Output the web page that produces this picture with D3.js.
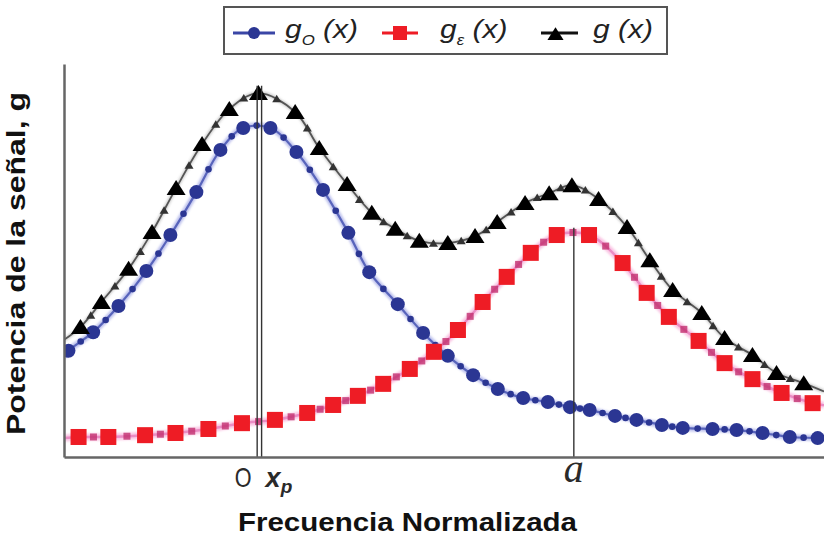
<!DOCTYPE html>
<html>
<head>
<meta charset="utf-8">
<script src="https://cdn.jsdelivr.net/npm/d3@7"></script>
<style>
  body { margin: 0; background: #fff; }
  svg { display: block; }
</style>
</head>
<body>
<svg id="chart" width="824" height="537"></svg>
<script>
// Normalized frequency axis (0 = origin, x_p = peak of g, a = centre of g_e)
const xMin = -3.05, xMax = 8.95;
const yMax = 108;

const tickLabels = [
  { x: 0,    text: "O" },
  { x: 0.07, text: "x", sub: "p" },
  { x: 5,    text: "a" }
];

// g_o(x): component centred at the origin
const goX = [-3.05, -2.98, -2.59, -2.19, -1.75, -1.37, -0.96, -0.58, -0.22, 0.21, 0.62, 1.04, 1.44, 1.77, 2.22, 2.62, 3.01, 3.41, 3.80, 4.20, 4.59, 4.94, 5.25, 5.65, 5.99, 6.39, 6.72, 7.19, 7.57, 7.98, 8.41, 8.85, 8.95];
const goY = [27.5, 29.2, 34.3, 41.5, 51.1, 61.0, 72.8, 84.4, 90.4, 90.4, 83.8, 73.4, 61.6, 50.8, 42.0, 34.1, 27.8, 22.5, 18.7, 16.2, 15.1, 13.7, 12.9, 11.3, 10.2, 8.8, 8.0, 7.7, 7.4, 6.6, 5.5, 5.2, 5.0];

// g_e(x): component centred at a
const geX = [-3.05, -2.82, -2.35, -1.77, -1.29, -0.77, -0.24, 0.28, 0.79, 1.20, 1.59, 1.99, 2.41, 2.79, 3.17, 3.56, 3.94, 4.32, 4.73, 5.24, 5.77, 6.15, 6.50, 6.97, 7.38, 7.82, 8.28, 8.77, 8.95];
const geY = [5.2, 5.5, 5.5, 6.0, 6.6, 7.7, 9.3, 10.2, 12.1, 14.3, 16.8, 20.1, 24.2, 28.9, 34.9, 42.6, 49.5, 56.1, 61.0, 61.0, 53.3, 45.1, 38.5, 31.9, 25.8, 21.4, 17.6, 14.8, 14.2];

// g(x): total signal power
const gX = [-3.05, -2.79, -2.46, -2.03, -1.66, -1.28, -0.87, -0.44, 0.02, 0.60, 0.98, 1.42, 1.81, 2.18, 2.56, 3.01, 3.44, 3.79, 4.23, 4.61, 4.97, 5.39, 5.84, 6.20, 6.56, 7.02, 7.38, 7.82, 8.20, 8.63, 8.95];
const gY = [32.2, 35.7, 42.6, 51.7, 61.8, 73.9, 86.0, 95.6, 100.0, 94.8, 84.9, 75.0, 67.1, 62.7, 59.4, 58.8, 60.7, 64.6, 69.8, 72.5, 74.7, 70.9, 63.2, 54.1, 45.9, 39.6, 32.7, 28.0, 23.1, 20.3, 18.0];

// Vertical guides: origin, x_p and a (top given in signal units)
const guideX   = [0, 0.07, 5];
const guideTop = [102, 102, 63];

const svg = d3.select("#chart");
const x = d3.scaleLinear().domain([xMin, xMax]).range([64, 824]);
const y = d3.scaleLinear().domain([0, yMax]).range([457, 64]);

const defs = svg.append("defs");
defs.append("clipPath").attr("id", "plotClip")
  .append("rect").attr("x", x(xMin)).attr("y", 0)
  .attr("width", x(xMax) - x(xMin)).attr("height", y(0));
defs.append("filter").attr("id", "soft")
  .append("feGaussianBlur").attr("stdDeviation", 0.9);

const triBig = "M0,-8L9.5,7L-9.5,7Z";
const triSmall = "M0,-4L4.5,3.5L-4.5,3.5Z";

const series = [
  { xs: goX, ys: goY, halo: "rgba(110,120,215,0.45)", line: "#5864bb", haloW: 6, lineW: 2.2,
    big: "circle", bigFill: "#2b3693", smallFill: "#2b3693" },
  { xs: geX, ys: geY, halo: "rgba(245,150,205,0.55)", line: "#ea8cc4", haloW: 7, lineW: 2.5,
    big: "square", bigFill: "#ee1c25", smallFill: "#c2306f" },
  { xs: gX, ys: gY, halo: "rgba(120,120,120,0.35)", line: "#555", haloW: 4, lineW: 1.8,
    big: "triangle", bigFill: "#000", smallFill: "#333" }
];

const plot = svg.append("g").attr("clip-path", "url(#plotClip)");
const line = d3.line().x(d => x(d.x)).y(d => y(d.v)).curve(d3.curveCatmullRom.alpha(0.5));

series.forEach(s => {
  const pts = s.xs.map((v, i) => ({ x: v, v: s.ys[i] }));
  const g = plot.append("g");
  g.append("path").attr("d", line(pts)).attr("fill", "none")
    .attr("stroke", s.halo).attr("stroke-width", s.haloW).attr("filter", "url(#soft)");
  const path = g.append("path").attr("d", line(pts)).attr("fill", "none")
    .attr("stroke", s.line).attr("stroke-width", s.lineW);
  s.pts = pts; s.g = g; s.path = path.node();
});

// Small beads drawn along each curve halfway between its main markers
series.forEach(s => {
  const node = s.path, L = node.getTotalLength();
  const samples = [];
  for (let l = 0; l <= L; l += 0.5) samples.push(node.getPointAtLength(l));
  const marks = s.pts.filter(d => d.x > xMin + 0.05 && d.x < xMax - 0.05);
  const beads = [];
  for (let i = 0; i < marks.length - 1; i++) {
    const tx = (x(marks[i].x) + x(marks[i + 1].x)) / 2;
    let best = samples[0];
    samples.forEach(p => { if (Math.abs(p.x - tx) < Math.abs(best.x - tx)) best = p; });
    beads.push(best);
  }
  const b = s.g.append("g");
  if (s.big === "circle") {
    b.selectAll("circle").data(beads).join("circle")
      .attr("cx", d => d.x).attr("cy", d => d.y).attr("r", 3.3).attr("fill", s.smallFill);
  } else if (s.big === "square") {
    b.selectAll("rect").data(beads).join("rect")
      .attr("x", d => d.x - 3.5).attr("y", d => d.y - 3.5).attr("width", 7).attr("height", 7)
      .attr("fill", s.smallFill).attr("opacity", 0.8);
  } else {
    b.selectAll("path").data(beads).join("path")
      .attr("d", triSmall).attr("transform", d => `translate(${d.x},${d.y})`).attr("fill", s.smallFill);
  }
  s.marks = marks;
});

// Guide lines
const guides = svg.append("g");
guideX.forEach((gx, i) => {
  guides.append("line")
    .attr("x1", x(gx)).attr("x2", x(gx))
    .attr("y1", y(0)).attr("y2", y(guideTop[i]))
    .attr("stroke", "#333").attr("stroke-width", 1.4);
});

// Main markers
series.forEach(s => {
  const m = plot.append("g");
  if (s.big === "circle") {
    m.selectAll("circle").data(s.marks).join("circle")
      .attr("cx", d => x(d.x)).attr("cy", d => y(d.v)).attr("r", 7).attr("fill", s.bigFill);
  } else if (s.big === "square") {
    m.selectAll("rect").data(s.marks).join("rect")
      .attr("x", d => x(d.x) - 8).attr("y", d => y(d.v) - 8).attr("width", 16).attr("height", 16)
      .attr("fill", s.bigFill);
  } else {
    m.selectAll("path").data(s.marks).join("path")
      .attr("d", triBig).attr("transform", d => `translate(${x(d.x)},${y(d.v)})`).attr("fill", s.bigFill);
  }
});

// Axes (lines only)
const axB = svg.append("g").attr("transform", `translate(0,${y(0)})`)
  .call(d3.axisBottom(x).tickValues([]).tickSizeOuter(0));
const axL = svg.append("g").attr("transform", `translate(${x(xMin)},0)`)
  .call(d3.axisLeft(y).tickValues([]).tickSizeOuter(0));
svg.selectAll(".domain").attr("stroke", "#666").attr("stroke-width", 2.5);

// Tick labels under the frequency axis
const tl = svg.append("g").attr("fill", "#2a2a2a");
tl.append("text")
  .attr("transform", `translate(${x(tickLabels[0].x) - 14},487) scale(0.8,1)`)
  .attr("text-anchor", "middle")
  .style("font-family", "'Liberation Sans', Arial, sans-serif").style("font-size", "27px")
  .text(tickLabels[0].text);
const xp = tl.append("text")
  .attr("transform", `translate(${x(tickLabels[1].x) + 4},487)`)
  .style("font-family", "'Liberation Sans', Arial, sans-serif").style("font-size", "27px")
  .style("font-style", "italic").style("font-weight", "bold");
xp.append("tspan").text(tickLabels[1].text);
xp.append("tspan").attr("dy", 6).style("font-size", "19px").text(tickLabels[1].sub);
tl.append("text")
  .attr("x", x(tickLabels[2].x)).attr("y", 482).attr("text-anchor", "middle")
  .style("font-family", "'Liberation Serif', 'Times New Roman', serif").style("font-size", "40px")
  .style("font-style", "italic").text(tickLabels[2].text);

// Axis titles
svg.append("text")
  .attr("x", 238).attr("y", 531)
  .attr("textLength", 339).attr("lengthAdjust", "spacingAndGlyphs")
  .style("font-family", "'Liberation Sans', Arial, sans-serif").style("font-size", "26px")
  .style("font-weight", "bold").attr("fill", "#111")
  .text("Frecuencia Normalizada");
svg.append("text")
  .attr("transform", "translate(25,435) rotate(-90)")
  .attr("textLength", 343).attr("lengthAdjust", "spacingAndGlyphs")
  .style("font-family", "'Liberation Sans', Arial, sans-serif").style("font-size", "25px")
  .style("font-weight", "bold").attr("fill", "#111")
  .text("Potencia de la señal, g");

// Legend
const legend = svg.append("g");
legend.append("rect").attr("x", 224).attr("y", 7).attr("width", 443).attr("height", 47)
  .attr("fill", "#fff").attr("stroke", "#555").attr("stroke-width", 2);

const legendItems = [
  { x0: 233, x1: 275, tx: 285, sub: "O", color: "#2b3693", lineColor: "#3a46a6", mark: "circle" },
  { x0: 382, x1: 418, tx: 440, sub: "ε", color: "#ee1c25", lineColor: "#ee1c25", mark: "square" },
  { x0: 541, x1: 578, tx: 593, sub: "",  color: "#000",    lineColor: "#111",    mark: "triangle" }
];
legendItems.forEach(it => {
  const cx = (it.x0 + it.x1) / 2, cy = 33;
  legend.append("line").attr("x1", it.x0).attr("x2", it.x1).attr("y1", cy).attr("y2", cy)
    .attr("stroke", it.lineColor).attr("stroke-width", 3);
  if (it.mark === "circle") {
    legend.append("circle").attr("cx", cx).attr("cy", cy).attr("r", 6).attr("fill", it.color);
  } else if (it.mark === "square") {
    legend.append("rect").attr("x", cx - 7).attr("y", cy - 7).attr("width", 14).attr("height", 14).attr("fill", it.color);
  } else {
    legend.append("path").attr("d", triBig).attr("transform", `translate(${cx - 4},${cy + 1}) scale(0.85)`).attr("fill", it.color);
  }
  const t = legend.append("text")
    .attr("transform", `translate(${it.tx},38) scale(1.2,1)`)
    .style("font-family", "'Liberation Sans', Arial, sans-serif").style("font-size", "25px")
    .style("font-style", "italic").attr("fill", "#222");
  t.append("tspan").text("g");
  if (it.sub) {
    t.append("tspan").attr("dy", 7).style("font-size", "14px").text(it.sub);
    t.append("tspan").attr("dy", -7).text(" (x)");
  } else {
    t.append("tspan").text(" (x)");
  }
});
</script>
</body>
</html>
